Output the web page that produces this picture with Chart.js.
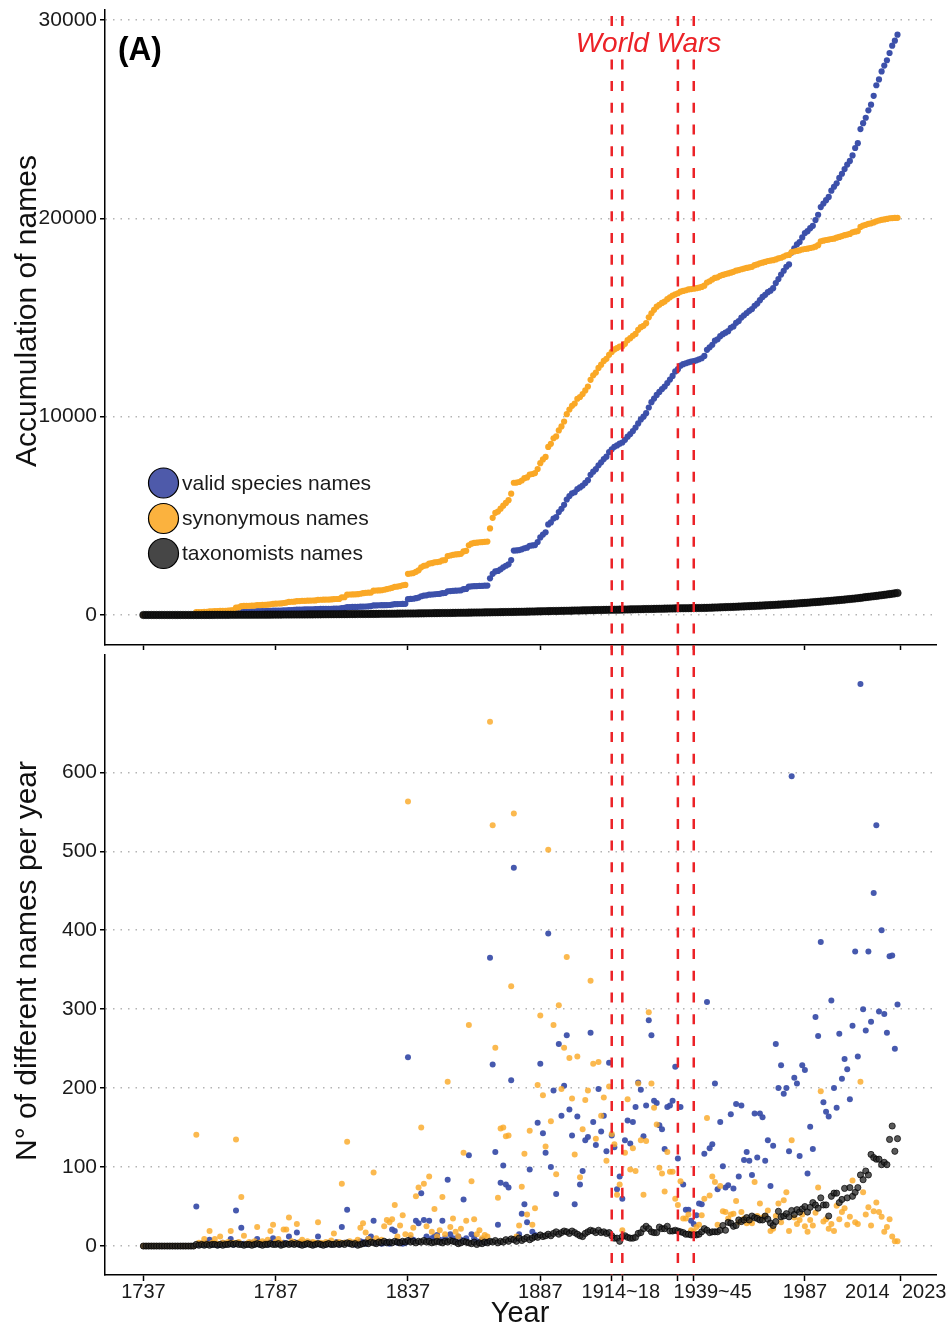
<!DOCTYPE html>
<html><head><meta charset="utf-8">
<script src="https://cdn.jsdelivr.net/npm/chart.js@4.4.1/dist/chart.umd.min.js"></script>
<style>
html,body{margin:0;padding:0;background:#fff;}
body{width:946px;height:1329px;position:relative;overflow:hidden;}
canvas{position:absolute;left:0;}
#topChart{top:0;}
#botChart{top:650px;}
</style></head><body>
<canvas id="topChart" width="946" height="650"></canvas>
<canvas id="botChart" width="946" height="679"></canvas>
<script>
// ---------------- DATA ----------------
const firstYear = 1737; // one value per year, 1737..2022

// valid species names described per year
const validPerYear = [
0,0,0,
0,0,0,0,0,0,0,0,0,0,
0,0,0,0,0,0,0,50,2,3,
2,4,8,2,3,1,2,4,2,3,
9,2,45,4,23,3,2,3,4,2,
9,2,3,4,2,5,10,3,4,2,
4,3,12,3,5,17,2,4,2,3,
4,2,3,12,2,3,2,4,2,3,
5,2,24,4,46,3,4,2,4,6,
5,3,9,12,32,4,6,3,4,5,
3,21,19,4,5,3,4,239,10,8,
32,29,67,33,12,32,10,12,14,8,
32,10,84,15,10,6,12,8,59,10,
115,15,10,6,5,8,4,6,365,230,
119,27,80,102,78,74,210,479,10,15,
41,53,30,97,18,14,156,231,143,118,
396,100,197,66,256,165,203,267,173,140,
53,164,78,95,134,138,270,157,128,199,
145,165,120,232,140,125,72,88,60,134,
159,130,157,176,207,198,139,178,286,267,
184,181,153,148,123,176,178,184,227,111,
176,78,46,46,32,28,39,54,53,117,
309,124,129,206,72,157,101,74,77,167,
73,180,88,178,109,119,108,90,168,112,
168,163,108,134,76,127,256,200,229,193,
200,120,595,213,206,114,229,223,92,151,
123,290,266,385,182,170,164,311,200,175,
269,212,237,224,186,279,373,240,712,300,
273,373,284,447,533,297,400,294,270,367,
368,250,306
];

// synonymous names published per year
const synPerYear = [
0,0,0,
0,0,0,0,0,0,0,0,0,0,
0,0,0,0,0,0,0,141,4,3,
9,3,19,4,9,3,12,4,3,5,
19,4,135,5,62,13,3,5,3,6,
24,4,6,3,8,19,27,5,9,4,
21,21,36,6,4,28,5,8,4,6,
3,5,4,30,4,3,5,3,7,16,
4,5,79,4,132,6,3,5,8,23,
29,17,9,6,93,10,5,8,25,33,
30,34,52,12,26,39,15,563,14,23,
63,74,150,79,25,88,18,47,12,20,
62,15,208,24,35,18,12,22,118,32,
280,82,34,15,20,10,14,12,664,533,
251,61,149,150,139,140,329,548,12,26,
75,117,40,146,27,48,204,292,191,126,
502,158,280,91,305,199,251,366,238,187,
116,240,87,148,185,197,336,231,136,233,
165,188,108,202,142,129,65,78,20,118,
186,97,124,95,206,134,65,133,296,206,
175,154,99,92,69,119,94,94,60,52,
82,35,35,40,20,18,24,27,39,60,
162,64,88,81,27,76,44,43,35,40,
41,57,30,43,35,29,31,29,81,38,
54,36,38,45,19,22,38,54,30,58,
68,19,134,36,28,33,40,25,18,33,
26,42,74,196,31,34,22,28,19,51,
34,43,48,27,37,83,30,28,208,68,
40,49,26,44,55,43,37,18,24,34,
12,6,6
];

// active taxonomists per year
const taxPerYear = [
0,0,0,
0,0,0,0,0,0,0,0,0,0,
0,0,0,0,0,0,0,2,1,2,
1,2,1,2,2,1,2,1,2,2,
3,2,3,2,2,1,2,2,1,2,
3,2,1,2,2,3,2,2,3,1,
2,3,2,3,2,3,2,1,2,3,
2,1,2,3,2,1,2,3,2,2,
3,2,3,2,4,3,2,3,1,2,
3,4,3,5,4,3,5,4,6,4,
5,4,6,5,4,6,5,7,5,6,
4,6,5,7,5,6,4,5,6,5,
4,6,5,7,6,5,3,4,6,5,
4,3,5,2,4,3,5,4,6,5,
7,4,6,5,8,6,9,8,6,10,
7,9,11,8,10,12,11,14,12,13,
15,13,16,18,15,17,19,18,16,19,
17,15,13,12,16,18,20,19,17,20,
17,18,16,17,13,10,10,6,12,13,
11,10,10,11,16,17,22,25,22,18,
17,17,24,22,22,25,19,19,20,19,
18,17,15,15,14,14,14,15,18,22,
20,17,18,18,18,20,26,20,30,29,
25,26,33,31,33,36,33,38,36,35,
33,33,38,34,29,26,31,44,37,38,
41,37,45,40,46,43,47,50,43,49,
55,52,48,61,52,52,38,63,67,67,
55,59,73,61,74,63,68,74,90,84,
95,90,116,112,110,110,103,106,103,135,
152,120,136
];

// accumulated number of taxonomists
const taxCumulative = [
1,1,1,
1,1,1,1,1,1,1,1,1,1,
1,1,1,1,1,1,1,2,3,3,
4,4,5,5,6,6,7,7,8,8,
9,9,10,11,11,12,12,13,14,14,
15,16,16,17,18,18,19,20,20,21,
22,23,23,24,25,26,27,27,28,29,
30,31,32,32,33,34,35,36,37,38,
39,40,41,42,43,44,45,46,47,49,
50,51,52,54,55,56,58,59,60,62,
63,65,66,68,69,71,72,74,76,77,
79,81,82,84,86,88,90,92,94,96,
98,100,102,104,106,108,110,112,114,116,
118,120,122,124,126,128,130,132,134,136,
138,140,143,145,148,150,153,155,158,160,
163,166,169,172,175,178,181,184,187,190,
193,196,199,202,205,208,211,214,217,220,
223,226,229,232,235,238,241,244,247,250,
253,256,259,262,264,266,268,270,272,275,
278,281,284,287,290,293,296,299,302,305,
308,311,314,317,320,323,326,329,332,335,
337,339,341,343,345,347,350,353,356,358,
360,365,370,375,380,385,390,395,400,405,
410,416,422,428,434,440,446,452,458,464,
470,477,484,491,498,505,513,521,529,537,
545,554,563,572,581,590,600,610,620,630,
640,650,661,672,683,694,705,716,727,738,
750,763,776,790,804,818,832,847,862,881,
900,915,930,946,963,980,998,1016,1034,1052,
1070,1090,1110
];

const xTickYears = [1737,1787,1837,1887,1914,1918,1939,1945,1987,2023];
const xAxisLabels = ['1737','1787','1837','1887','1914~18','1939~45','1987','2014','2023'];
const warYears = [1914,1918,1939,1945];
const topYTicks = [0,10000,20000,30000];
const botYTicks = [0,100,200,300,400,500,600];
const legendLabels = ['valid species names','synonymous names','taxonomists names'];
const panelLabel = '(A)';
const warLabel = 'World Wars';
const topYTitle = 'Accumulation of names';
const botYTitle = 'N\u00b0 of different names per year';
const xTitle = 'Year';

// ---------------- BUILD ----------------
[validPerYear, synPerYear, taxPerYear, taxCumulative].forEach((a, k) => {
  if (a.length !== 286) throw new Error('array ' + k + ' has length ' + a.length);
});
const years = validPerYear.map((_, i) => firstYear + i);
function cumulative(arr) { let s = 0; return arr.map(v => (s += v)); }
const validCum = cumulative(validPerYear);
const synCum = cumulative(synPerYear);
const pts = arr => arr.map((v, i) => ({ x: years[i], y: v }));

const BLUE = 'rgb(60,80,170)';
const ORANGE = 'rgb(250,168,38)';
const RED = 'rgb(236,34,39)';
const FONT = '"Liberation Sans", Arial, Helvetica, sans-serif';
const X_MIN = 1722.49, X_MAX = 2036.55;

function xScale(showLabels) {
  return {
    type: 'linear', position: 'bottom', min: X_MIN, max: X_MAX,
    afterBuildTicks: s => { s.ticks = xTickYears.map(v => ({ value: v })); },
    afterFit: s => { s.height = showLabels ? 54 : 5; s.paddingLeft = 0; s.paddingRight = 0; s.paddingTop = 0; s.paddingBottom = 0; },
    ticks: { callback: () => '', font: { size: 1 }, padding: 0 },
    grid: { drawOnChartArea: false, drawTicks: true, tickLength: 6, tickColor: '#000', tickWidth: 1.5 },
    border: { display: true, color: '#000', width: 1.5 }
  };
}
function yScale(min, max, ticks) {
  return {
    type: 'linear', min: min, max: max,
    afterBuildTicks: s => { s.ticks = ticks.map(v => ({ value: v })); },
    afterFit: s => { s.width = 105; s.paddingTop = 0; s.paddingBottom = 0; s.paddingLeft = 0; s.paddingRight = 0; },
    ticks: { callback: v => String(v), font: { family: FONT, size: 21 }, color: '#1a1a1a', padding: 3 },
    grid: { drawOnChartArea: true, color: '#b4b4b4', lineWidth: 1.5, drawTicks: true, tickLength: 5, tickColor: '#000', tickWidth: 1.5, tickBorderDash: [] },
    border: { display: true, color: '#000', width: 1.5, dash: [1.5, 6] }
  };
}

function drawWarLines(chart, y0, y1, offset) {
  const { ctx, scales: { x } } = chart;
  ctx.save();
  ctx.strokeStyle = RED; ctx.lineWidth = 2.5;
  ctx.setLineDash([10, 11.7]); ctx.lineDashOffset = offset;
  warYears.forEach(yr => {
    const px = x.getPixelForValue(yr);
    ctx.beginPath(); ctx.moveTo(px, y0); ctx.lineTo(px, y1); ctx.stroke();
  });
  ctx.restore();
}
function drawRotated(ctx, text, x, y, size) {
  ctx.save();
  ctx.translate(x, y); ctx.rotate(-Math.PI / 2);
  ctx.font = size + 'px ' + FONT; ctx.fillStyle = '#111';
  ctx.textAlign = 'center'; ctx.textBaseline = 'alphabetic';
  ctx.fillText(text, 0, 0);
  ctx.restore();
}

const topDecor = {
  id: 'topDecor',
  afterDatasetsDraw(chart) {
    const ctx = chart.ctx;
    drawWarLines(chart, 16, chart.height, 0);
    ctx.save();
    ctx.fillStyle = '#fff'; ctx.fillRect(572, 26, 154, 33);
    ctx.fillStyle = RED; ctx.font = 'italic 28px ' + FONT;
    ctx.textAlign = 'center'; ctx.textBaseline = 'alphabetic';
    ctx.fillText(warLabel, 648.5, 52);
    ctx.restore();
  },
  afterDraw(chart) {
    const ctx = chart.ctx;
    ctx.save();
    ctx.fillStyle = '#000'; ctx.font = 'bold 34px ' + FONT;
    ctx.textAlign = 'left'; ctx.textBaseline = 'alphabetic';
    ctx.save(); ctx.translate(118, 60); ctx.scale(0.93, 1); ctx.fillText(panelLabel, 0, 0); ctx.restore();
    const cols = ['rgb(78,90,170)', 'rgb(251,178,62)', 'rgb(70,70,70)'];
    const cy = [483, 518.5, 553.5];
    legendLabels.forEach((t, i) => {
      ctx.beginPath(); ctx.arc(163.5, cy[i], 15, 0, Math.PI * 2);
      ctx.fillStyle = cols[i]; ctx.fill();
      ctx.lineWidth = 1.2; ctx.strokeStyle = '#000'; ctx.stroke();
      ctx.fillStyle = '#1a1a1a'; ctx.font = '21px ' + FONT;
      ctx.textBaseline = 'middle'; ctx.fillText(t, 182, cy[i] + 1);
    });
    ctx.restore();
    drawRotated(ctx, topYTitle, 36, 311, 30);
  }
};

const botDecor = {
  id: 'botDecor',
  afterDatasetsDraw(chart) {
    drawWarLines(chart, 0, chart.chartArea.bottom, 4.7);
  },
  afterDraw(chart) {
    const ctx = chart.ctx, x = chart.scales.x;
    const anchors = { '1914~18': [1918, -1.5], '1939~45': [1945, 19], '2014': [2014, -9], '2023': [2023, 24] };
    ctx.save();
    ctx.fillStyle = '#1a1a1a'; ctx.font = '20px ' + FONT;
    ctx.textAlign = 'center'; ctx.textBaseline = 'middle';
    xAxisLabels.forEach(t => {
      const a = anchors[t] || [Number(t), 0];
      ctx.fillText(t, x.getPixelForValue(a[0]) + a[1], 642);
    });
    ctx.fillStyle = '#111'; ctx.font = '29px ' + FONT;
    ctx.fillText(xTitle, 520, 664);
    ctx.restore();
    drawRotated(ctx, botYTitle, 36, 311, 30);
  }
};

const common = {
  responsive: false, animation: false, devicePixelRatio: 1, events: [],
  plugins: { legend: { display: false }, tooltip: { enabled: false } }
};

new Chart(document.getElementById('topChart'), {
  type: 'scatter',
  data: { datasets: [
    { label: legendLabels[2], data: pts(taxCumulative), backgroundColor: 'rgba(18,18,18,0.92)', borderColor: 'rgba(0,0,0,0.9)', pointRadius: 3.8, pointBorderWidth: 0.5, order: 0 },
    { label: legendLabels[1], data: pts(synCum), backgroundColor: ORANGE, borderColor: ORANGE, pointRadius: 3.1, pointBorderWidth: 0, order: 1 },
    { label: legendLabels[0], data: pts(validCum), backgroundColor: BLUE, borderColor: BLUE, pointRadius: 3.1, pointBorderWidth: 0, order: 2 }
  ]},
  options: Object.assign({}, common, {
    layout: { padding: { top: 10, right: 10, bottom: 0, left: 0 } },
    scales: { x: xScale(false), y: yScale(-1513, 30504, topYTicks) }
  }),
  plugins: [topDecor]
});

new Chart(document.getElementById('botChart'), {
  type: 'scatter',
  data: { datasets: [
    { label: legendLabels[2], data: pts(taxPerYear), backgroundColor: 'rgba(35,35,35,0.75)', borderColor: 'rgba(0,0,0,0.85)', pointRadius: 3.1, pointBorderWidth: 0.8, order: 0 },
    { label: legendLabels[1], data: pts(synPerYear), backgroundColor: 'rgba(250,170,40,0.82)', borderColor: 'rgba(250,170,40,0.82)', pointRadius: 3, pointBorderWidth: 0, order: 1 },
    { label: legendLabels[0], data: pts(validPerYear), backgroundColor: 'rgba(60,80,170,0.95)', borderColor: 'rgba(60,80,170,0.95)', pointRadius: 3, pointBorderWidth: 0, order: 2 }
  ]},
  options: Object.assign({}, common, {
    layout: { padding: { top: 5, right: 10, bottom: 0, left: 0 } },
    scales: { x: xScale(true), y: yScale(-36.7, 748.6, botYTicks) }
  }),
  plugins: [botDecor]
});
</script>
</body></html>
